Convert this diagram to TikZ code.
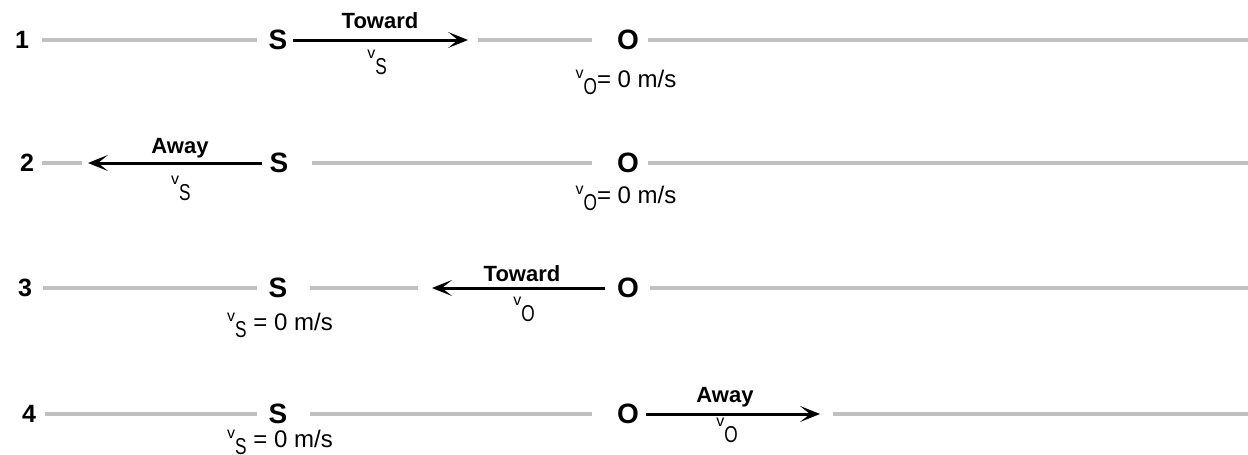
\documentclass[tikz,border=0pt]{standalone}
\usepackage{fontspec}
\setmainfont{Liberation Sans}
\newfontfamily\narrowfont[FakeStretch=0.75]{Liberation Sans}
\usetikzlibrary{arrows.meta}
\definecolor{trackgray}{RGB}{192,192,192}
% velocity symbol: small v with a large, lowered subscript letter
\newcommand{\velo}[1]{\raisebox{9pt}{\fontsize{16}{16}\selectfont v}\raisebox{-7pt}{\narrowfont\fontsize{23}{23}\selectfont #1}}
\begin{document}
\begin{tikzpicture}[x=1pt,y=-1pt,
  track/.style={line width=4pt, draw=trackgray},
  motion/.style={line width=3pt, -{Stealth[length=20pt,width=16pt,inset=10pt]}},
  rownum/.style={font=\bfseries\fontsize{25}{25}\selectfont, inner sep=0pt},
  body/.style={font=\bfseries\fontsize{28}{28}\selectfont, inner sep=0pt},
  dirlabel/.style={font=\bfseries\fontsize{22}{22}\selectfont, inner sep=0pt},
  vellabel/.style={inner sep=0pt},
  zerolabel/.style={font=\fontsize{24}{24}\selectfont, inner sep=0pt}]
\useasboundingbox (0,0) rectangle (1248,455);

% ---------- row 1: source moves toward observer ----------
\node[rownum] (n1) at (22,40) {1};
\node[body] (s1) at (278,40) {S};
\node[body] (o1) at (628,40) {O};
\coordinate (a1s) at (42,40);  \coordinate (a1e) at (257,40);
\coordinate (m1s) at (293,40); \coordinate (m1e) at (468,40);
\coordinate (b1s) at (478,40); \coordinate (b1e) at (592,40);
\coordinate (c1s) at (648,40); \coordinate (c1e) at (1248,40);
\draw[track] (a1s) -- (a1e);
\draw[track] (b1s) -- (b1e);
\draw[track] (c1s) -- (c1e);
\draw[motion] (m1s) -- (m1e);
\node[dirlabel] (t1) at (380,21) {Toward};
\node[vellabel] (v1) at (377,62) {\velo{S}};
\node[zerolabel] (z1) at (626,82) {\velo{O}= 0 m/s};

% ---------- row 2: source moves away from observer ----------
\node[rownum] (n2) at (27,163) {2};
\node[body] (s2) at (279,163) {S};
\node[body] (o2) at (628,163) {O};
\coordinate (a2s) at (42,163);  \coordinate (a2e) at (82,163);
\coordinate (m2s) at (262,163); \coordinate (m2e) at (88,163);
\coordinate (b2s) at (312,163); \coordinate (b2e) at (592,163);
\coordinate (c2s) at (648,163); \coordinate (c2e) at (1248,163);
\draw[track] (a2s) -- (a2e);
\draw[track] (b2s) -- (b2e);
\draw[track] (c2s) -- (c2e);
\draw[motion] (m2s) -- (m2e);
\node[dirlabel] (t2) at (180,148) {Away};
\node[vellabel] (v2) at (181,188) {\velo{S}};
\node[zerolabel] (z2) at (626,198) {\velo{O}= 0 m/s};

% ---------- row 3: observer moves toward source ----------
\node[rownum] (n3) at (25,288) {3};
\node[body] (s3) at (278,288) {S};
\node[body] (o3) at (628,288) {O};
\coordinate (a3s) at (43,288);  \coordinate (a3e) at (257,288);
\coordinate (b3s) at (310,288); \coordinate (b3e) at (418,288);
\coordinate (m3s) at (605,288); \coordinate (m3e) at (432,288);
\coordinate (c3s) at (650,288); \coordinate (c3e) at (1248,288);
\draw[track] (a3s) -- (a3e);
\draw[track] (b3s) -- (b3e);
\draw[track] (c3s) -- (c3e);
\draw[motion] (m3s) -- (m3e);
\node[dirlabel] (t3) at (522,274) {Toward};
\node[vellabel] (v3) at (524,309) {\velo{O}};
\node[zerolabel] (z3) at (280,325) {\velo{S} = 0 m/s};

% ---------- row 4: observer moves away from source ----------
\node[rownum] (n4) at (29,414) {4};
\node[body] (s4) at (278,414) {S};
\node[body] (o4) at (628,414) {O};
\coordinate (a4s) at (45,414);  \coordinate (a4e) at (257,414);
\coordinate (b4s) at (310,414); \coordinate (b4e) at (592,414);
\coordinate (m4s) at (646,414); \coordinate (m4e) at (820,414);
\coordinate (c4s) at (833,414); \coordinate (c4e) at (1248,414);
\draw[track] (a4s) -- (a4e);
\draw[track] (b4s) -- (b4e);
\draw[track] (c4s) -- (c4e);
\draw[motion] (m4s) -- (m4e);
\node[dirlabel] (t4) at (725,397) {Away};
\node[vellabel] (v4) at (727,430) {\velo{O}};
\node[zerolabel] (z4) at (280,442) {\velo{S} = 0 m/s};
\end{tikzpicture}
\end{document}
